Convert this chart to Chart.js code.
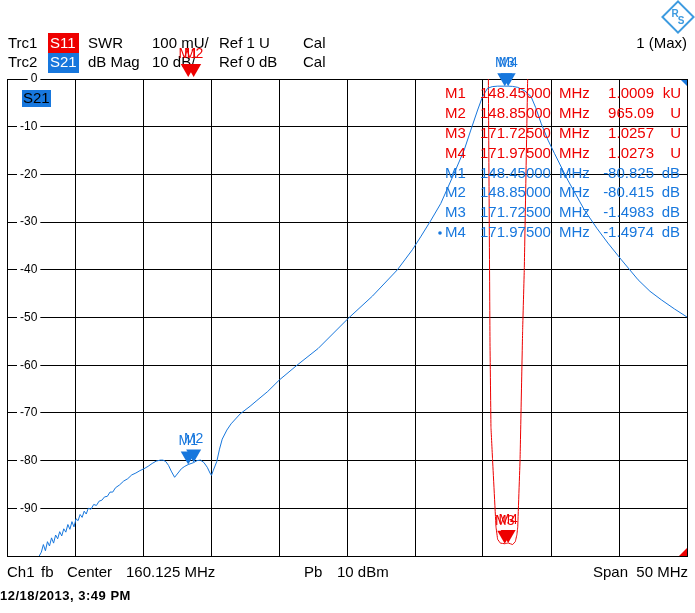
<!DOCTYPE html>
<html>
<head>
<meta charset="utf-8">
<script src="https://cdn.jsdelivr.net/npm/chart.js@4/dist/chart.umd.min.js"></script>
<style>
html,body{margin:0;padding:0;background:#fff;}
canvas{display:block;}
</style>
</head>
<body>
<canvas id="c" width="695" height="613"></canvas>
<script>
// ---- sweep settings ----
const centerMHz = 160.125;
const spanMHz = 50;
const startMHz = centerMHz - spanMHz / 2;
const stopMHz = centerMHz + spanMHz / 2;
const xGridMHz = [135.125, 140.125, 145.125, 150.125, 155.125, 160.125, 165.125, 170.125, 175.125, 180.125, 185.125];
const yTicksDb = [0, -10, -20, -30, -40, -50, -60, -70, -80, -90, -100];

// ---- Trc2: S21 dB Mag ----
const s21Freq = [135.125, 136.5, 137.4, 137.65, 137.8, 137.95, 138.1, 138.25, 138.4, 138.55, 138.7, 138.85, 139.0, 139.15, 139.3, 139.45, 139.6, 139.75, 139.9, 140.05, 140.2, 140.35, 140.5, 140.65, 140.8, 140.95, 141.1, 141.3, 141.5, 141.7, 141.9, 142.1, 142.3, 142.5, 142.7, 142.9, 143.1, 143.4, 143.7, 144.0, 144.3, 144.6, 144.9, 145.2, 145.5, 145.8, 146.1, 146.4, 146.6, 146.8, 147.0, 147.2, 147.45, 147.7, 147.95, 148.2, 148.45, 148.85, 149.1, 149.35, 149.6, 149.85, 150.05, 150.16, 150.3, 150.55, 150.75, 150.95, 151.29, 151.6, 152.27, 153.0, 153.5, 154.3, 155.15, 156.45, 158.0, 160.21, 162.0, 163.83, 164.93, 165.54, 166.3, 167.02, 168.0, 168.74, 169.23, 169.73, 170.09, 170.46, 170.8, 171.2, 171.725, 171.975, 172.3, 172.68, 173.2, 173.66, 174.0, 174.4, 174.9, 175.38, 176.36, 177.59, 178.5, 179.31, 180.3, 181.53, 182.4, 183.24, 184.2, 185.125];
const s21Db = [-106, -103, -100.5, -99.2, -97.6, -98.9, -97.0, -97.9, -96.2, -97.3, -95.6, -96.4, -94.9, -95.8, -94.3, -95.0, -93.4, -94.4, -92.8, -93.9, -92.2, -92.6, -91.3, -91.9, -90.6, -91.2, -90.0, -90.2, -89.2, -89.4, -88.5, -88.3, -87.6, -87.5, -86.6, -86.6, -85.7, -85.1, -84.3, -83.8, -83.0, -82.6, -82.1, -81.7, -81.2, -80.6, -80.1, -79.9, -79.9, -80.2, -81.0, -82.2, -83.5, -82.6, -81.7, -81.2, -80.825, -80.415, -80.0, -79.9, -80.4, -81.4, -82.6, -83.1, -82.0, -80.2, -77.6, -75.5, -73.6, -72.3, -70.2, -68.6, -67.4, -65.5, -63.1, -60.0, -56.5, -50.2, -45.5, -40.0, -35.8, -33.1, -29.6, -26.1, -19.8, -14.9, -10.7, -6.5, -3.7, -1.95, -1.6, -1.5, -1.4983, -1.4974, -1.55, -1.75, -2.5, -3.7, -6.0, -9.3, -12.8, -15.6, -21.2, -27.5, -31.3, -34.4, -37.9, -42.1, -44.5, -46.3, -48.2, -49.9];

// ---- Trc1: S11 SWR ----
const swrFreq = [135.125, 142, 148.45, 148.85, 155, 163, 169.5, 170.3, 170.52, 170.64, 170.71, 170.83, 171.08, 171.2, 171.4, 171.725, 171.975, 172.3, 172.5, 172.62, 172.68, 172.85, 173.04, 173.16, 173.41, 173.7, 176, 180, 185.125];
const swrVal = [45, 180, 1000.9, 965.09, 120, 30, 6, 2.6, 2.0, 1.4465, 1.27, 1.201, 1.061, 1.035, 1.027, 1.0257, 1.0273, 1.024, 1.03, 1.045, 1.061, 1.201, 1.474, 1.60, 2.0, 2.7, 12, 30, 45];

// ---- markers ----
const markerNames = ['M1', 'M2', 'M3', 'M4'];
const markerFreq = [148.45, 148.85, 171.725, 171.975];
const markerSwr = [1000.9, 965.09, 1.0257, 1.0273];
const markerS21 = [-80.825, -80.415, -1.4983, -1.4974];

const RED = '#ee0000';
const BLUE = '#1777dd';
const FONT = '"Liberation Sans", Arial, sans-serif';

function fmtSwr(v) {
  return v >= 1000 ? [(v / 1000).toPrecision(5), 'kU'] : [v.toPrecision(5), 'U'];
}

function drawMarker(ctx, x, yTip, color, label) {
  ctx.fillStyle = color;
  ctx.beginPath();
  ctx.moveTo(x - 7.5, yTip - 13);
  ctx.lineTo(x + 7.5, yTip - 13);
  ctx.lineTo(x, yTip);
  ctx.closePath();
  ctx.fill();
  ctx.font = '14px ' + FONT;
  ctx.textAlign = 'center';
  ctx.textBaseline = 'middle';
  ctx.fillText(label, x, yTip - 23);
}

const decor = {
  id: 'decor',
  beforeDraw(chart) {
    const ctx = chart.ctx;
    ctx.save();
    ctx.fillStyle = '#fff';
    ctx.fillRect(0, 0, chart.width, chart.height);
    ctx.restore();
  },
  afterDraw(chart) {
    const ctx = chart.ctx;
    const ca = chart.chartArea;
    const xs = chart.scales.x, ys = chart.scales.y, yw = chart.scales.ySwr;
    ctx.save();
    ctx.textBaseline = 'middle';

    // header
    ctx.fillStyle = RED; ctx.fillRect(48, 33, 31, 20);
    ctx.fillStyle = BLUE; ctx.fillRect(48, 53, 31, 20);
    ctx.font = '15px ' + FONT;
    ctx.textAlign = 'left';
    ctx.fillStyle = '#fff';
    ctx.fillText('S11', 50, 44);
    ctx.fillText('S21', 50, 63);
    ctx.fillStyle = '#000';
    const r1 = [['Trc1', 8], ['SWR', 88], ['100 mU/', 152], ['Ref 1 U', 219], ['Cal', 303]];
    const r2 = [['Trc2', 8], ['dB Mag', 88], ['10 dB/', 152], ['Ref 0 dB', 219], ['Cal', 303]];
    r1.forEach(([t, x]) => ctx.fillText(t, x, 44));
    r2.forEach(([t, x]) => ctx.fillText(t, x, 63));
    ctx.textAlign = 'right';
    ctx.fillText('1 (Max)', 687, 44);

    // R&S logo
    ctx.save();
    ctx.translate(678, 17);
    ctx.rotate(Math.PI / 4);
    ctx.strokeStyle = '#3d9be0';
    ctx.lineWidth = 2;
    ctx.strokeRect(-11, -11, 22, 22);
    ctx.restore();
    ctx.fillStyle = '#3d9be0';
    ctx.font = 'bold 10px ' + FONT;
    ctx.textAlign = 'center';
    ctx.fillText('R', 675, 14);
    ctx.fillText('S', 681, 21);

    // S21 badge inside plot
    ctx.fillStyle = BLUE; ctx.fillRect(22, 90, 29, 17);
    ctx.fillStyle = '#000';
    ctx.font = '15px ' + FONT;
    ctx.textAlign = 'left';
    ctx.fillText('S21', 23, 99);

    // corner indicators
    ctx.fillStyle = BLUE;
    ctx.beginPath(); ctx.moveTo(ca.right - 6, ca.top + 1); ctx.lineTo(ca.right, ca.top + 1); ctx.lineTo(ca.right, ca.top + 7); ctx.closePath(); ctx.fill();
    ctx.fillStyle = RED;
    ctx.beginPath(); ctx.moveTo(ca.right, ca.bottom - 8); ctx.lineTo(ca.right, ca.bottom); ctx.lineTo(ca.right - 8, ca.bottom); ctx.closePath(); ctx.fill();

    // markers
    markerFreq.forEach((f, i) => {
      const x = xs.getPixelForValue(f);
      let yr = yw.getPixelForValue(markerSwr[i]);
      yr = Math.min(Math.max(yr, ca.top - 2), ca.bottom);
      drawMarker(ctx, x, yr, RED, markerNames[i]);
      let yb = ys.getPixelForValue(markerS21[i]);
      yb = Math.min(Math.max(yb, ca.top), ca.bottom);
      drawMarker(ctx, x, yb, BLUE, markerNames[i]);
    });

    // marker table
    ctx.font = '15px ' + FONT;
    const y0 = 94, dy = 19.85;
    markerNames.forEach((m, i) => {
      const [v, u] = fmtSwr(markerSwr[i]);
      const y = y0 + i * dy;
      ctx.fillStyle = RED;
      ctx.textAlign = 'left';
      ctx.fillText(m, 445, y);
      ctx.fillText(markerFreq[i].toFixed(5), 480, y);
      ctx.fillText('MHz', 559, y);
      ctx.textAlign = 'right';
      ctx.fillText(v, 654, y);
      ctx.fillText(u, 681, y);
    });
    markerNames.forEach((m, i) => {
      const y = y0 + (i + 4) * dy;
      ctx.fillStyle = BLUE;
      ctx.textAlign = 'left';
      ctx.fillText(m, 445, y);
      ctx.fillText(markerFreq[i].toFixed(5), 480, y);
      ctx.fillText('MHz', 559, y);
      ctx.textAlign = 'right';
      ctx.fillText(markerS21[i].toPrecision(5), 654, y);
      ctx.fillText('dB', 680, y);
      if (i === 3) { ctx.beginPath(); ctx.arc(440, y, 1.8, 0, Math.PI * 2); ctx.fill(); }
    });

    // footer
    ctx.fillStyle = '#000';
    ctx.font = '15px ' + FONT;
    ctx.textAlign = 'left';
    ctx.fillText('Ch1', 7, 573);
    ctx.fillText('fb', 41, 573);
    ctx.fillText('Center', 67, 573);
    ctx.fillText('160.125 MHz', 126, 573);
    ctx.fillText('Pb', 304, 573);
    ctx.fillText('10 dBm', 337, 573);
    ctx.textAlign = 'right';
    ctx.fillText('Span  50 MHz', 688, 573);
    ctx.textAlign = 'left';
    ctx.font = 'bold 13px ' + FONT;
    try { ctx.letterSpacing = '0.5px'; } catch (e) {}
    ctx.fillText('12/18/2013, 3:49 PM', 0, 596);
    ctx.restore();
  }
};

new Chart(document.getElementById('c'), {
  type: 'line',
  data: {
    datasets: [
      {
        label: 'S21',
        data: s21Freq.map((f, i) => ({ x: f, y: s21Db[i] })),
        xAxisID: 'x', yAxisID: 'y',
        borderColor: BLUE, borderWidth: 1, pointRadius: 0, tension: 0
      },
      {
        label: 'S11',
        data: swrFreq.map((f, i) => ({ x: f, y: swrVal[i] })),
        xAxisID: 'x', yAxisID: 'ySwr',
        borderColor: RED, borderWidth: 1, pointRadius: 0,
        tension: 0.000001, capBezierPoints: false
      }
    ]
  },
  options: {
    responsive: false,
    animation: false,
    devicePixelRatio: 1,
    layout: { padding: { left: 7, top: 79, right: 8, bottom: 57 } },
    plugins: { legend: { display: false }, tooltip: { enabled: false } },
    scales: {
      x: {
        type: 'linear', min: startMHz, max: stopMHz,
        afterBuildTicks: s => { s.ticks = xGridMHz.map(v => ({ value: v })); },
        ticks: { display: false },
        grid: { color: '#000', lineWidth: 1, drawTicks: false },
        border: { color: '#000', width: 1 }
      },
      y: {
        type: 'linear', min: -100, max: 0,
        afterBuildTicks: s => { s.ticks = yTicksDb.map(v => ({ value: v })); },
        afterFit: s => { s.width = 0; },
        ticks: {
          mirror: true, crossAlign: 'far', padding: 13,
          color: '#000',
          font: { family: FONT, size: 12 },
          callback: v => (v === -100 ? '' : String(v)),
          showLabelBackdrop: true,
          backdropColor: c => (c.tick && c.tick.value === -100 ? 'rgba(0,0,0,0)' : '#fff'),
          backdropPadding: { left: 3, right: 3, top: 0, bottom: 0 }
        },
        grid: { color: '#000', lineWidth: 1, drawTicks: false },
        border: { color: '#000', width: 1 }
      },
      ySwr: { type: 'linear', min: 1, max: 2, display: false }
    }
  },
  plugins: [decor]
});
</script>
</body>
</html>
